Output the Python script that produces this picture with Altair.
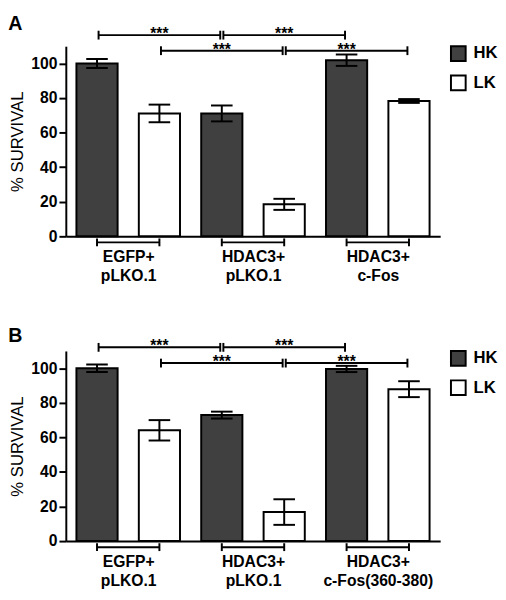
import altair as alt
import pandas as pd

# ---------------- data ----------------
groups_A = ["EGFP+|pLKO.1", "HDAC3+|pLKO.1", "HDAC3+|c-Fos"]
groups_B = ["EGFP+|pLKO.1", "HDAC3+|pLKO.1", "HDAC3+|c-Fos(360-380)"]
conditions = ["HK", "LK"]

hk_A = [100.0, 71.1, 101.9]
hk_A_err = [2.6, 4.6, 3.3]
lk_A = [71.1, 18.5, 78.3]
lk_A_err = [5.1, 3.2, 1.1]

hk_B = [100.0, 72.9, 99.6]
hk_B_err = [2.2, 2.0, 1.8]
lk_B = [64.1, 16.8, 87.9]
lk_B_err = [5.9, 7.4, 4.6]

# significance comparisons between bars (bar index = 2*group + condition)
sig_pairs = [(0, 2), (2, 4), (1, 3), (3, 5)]
sig_labels = ["***", "***", "***", "***"]
sig_levels_A = [116.4, 116.4, 107.4, 107.4]
sig_levels_B = [112.1, 112.1, 103.0, 103.0]

y_ticks = [0, 20, 40, 60, 80, 100]
y_title = "% SURVIVAL"

# ---------------- style ----------------
FONT = "Liberation Sans"
DARK = "#404040"
HALF = 0.33      # half bar width in category steps
GAP = 0.025      # gap at bracket junctions
GROUP_LEVEL = -3.5
W = 382
H = 194


def panel(letter, groups, hk, hk_err, lk, lk_err, sig_levels, height):
    rows = []
    for g in range(len(groups)):
        for c, (vals, errs) in enumerate([(hk, hk_err), (lk, lk_err)]):
            i = 2 * g + c
            rows.append(dict(cond=conditions[c], xc=i, x0=i - HALF, x1=i + HALF,
                             value=vals[g], lo=vals[g] - errs[g], hi=vals[g] + errs[g]))
    bars_df = pd.DataFrame(rows)

    sig_rows = []
    for (a, b), lab, lev in zip(sig_pairs, sig_labels, sig_levels):
        sig_rows.append(dict(s=a + GAP, e=b - GAP, mid=(a + b) / 2, level=lev, label=lab))
    sig_df = pd.DataFrame(sig_rows)
    sig_ends = pd.DataFrame(
        [dict(x=r["s"], level=r["level"]) for r in sig_rows]
        + [dict(x=r["e"], level=r["level"]) for r in sig_rows])

    grp_df = pd.DataFrame([dict(s=2 * g, e=2 * g + 1, level=GROUP_LEVEL) for g in range(len(groups))])
    grp_ends = pd.DataFrame([dict(x=2 * g + c, level=GROUP_LEVEL) for g in range(len(groups)) for c in range(2)])

    xs = alt.Scale(domain=[-0.5, 5.5], nice=False, zero=False)
    ys = alt.Scale(domain=[0, 110], nice=False, zero=False)

    arr = "[" + ",".join("'" + g + "'" for g in groups) + "]"
    label_expr = "split(" + arr + "[round((datum.value - 0.5) / 2)], '|')"
    x_axis = alt.Axis(values=[0.5, 2.5, 4.5], labelExpr=label_expr, title=None)
    y_axis = alt.Axis(values=y_ticks, format="d", title=y_title)

    def X(f):
        return alt.X(f, scale=xs, axis=x_axis)

    def Y(f):
        return alt.Y(f, scale=ys, axis=y_axis)

    bars = alt.Chart(bars_df).mark_rect(stroke="black", strokeWidth=2).encode(
        x=X("x0:Q"),
        x2="x1",
        y=Y("value:Q"),
        y2=alt.datum(0),
        fill=alt.Fill("cond:N", scale=alt.Scale(domain=conditions, range=[DARK, "#ffffff"]),
                      legend=alt.Legend(title=None, orient="none", legendX=W + 10, legendY=-1,
                                        symbolType="square", symbolSize=225,
                                        symbolStrokeColor="black", symbolStrokeWidth=2,
                                        symbolOpacity=1, labelFontSize=17, labelFont=FONT,
                                        labelFontWeight="bold", labelColor="black",
                                        labelOffset=7, rowPadding=7)),
    )

    err = alt.Chart(bars_df).mark_rule(color="black", strokeWidth=2).encode(
        x=X("xc:Q"), y=Y("lo:Q"), y2="hi",
    )
    caps = alt.Chart(bars_df).transform_fold(["lo", "hi"], as_=["end", "yv"]).mark_tick(
        color="black", orient="horizontal", size=22, thickness=2, opacity=1).encode(
        x=X("xc:Q"), y=Y("yv:Q"),
    )

    sig_lines = alt.Chart(sig_df).mark_rule(color="black", strokeWidth=2).encode(
        x=X("s:Q"), x2="e", y=Y("level:Q"),
    )
    sig_ticks = alt.Chart(sig_ends).mark_tick(
        color="black", orient="vertical", size=9, thickness=2, opacity=1).encode(
        x=X("x:Q"), y=Y("level:Q"),
    )
    sig_text = alt.Chart(sig_df).mark_text(
        font=FONT, fontSize=16, fontWeight="bold", baseline="alphabetic", dy=4,
        color="black").encode(
        x=X("mid:Q"), y=Y("level:Q"), text="label:N",
    )

    grp_lines = alt.Chart(grp_df).mark_rule(color="black", strokeWidth=2).encode(
        x=X("s:Q"), x2="e", y=Y("level:Q"),
    )
    grp_ticks = alt.Chart(grp_ends).mark_tick(
        color="black", orient="vertical", size=8, thickness=2, opacity=1).encode(
        x=X("x:Q"), y=Y("level:Q"),
    )

    return alt.layer(bars, err, caps, sig_lines, sig_ticks, sig_text, grp_lines, grp_ticks).properties(
        width=W, height=height,
        title=alt.TitleParams(letter, anchor="start", frame="bounds", fontSize=20,
                              fontWeight="bold", font=FONT, color="black", offset=-8),
    )


pA = panel("A", groups_A, hk_A, hk_A_err, lk_A, lk_A_err, sig_levels_A, H)
pB = panel("B", groups_B, hk_B, hk_B_err, lk_B, lk_B_err, sig_levels_B, H)

chart = alt.vconcat(pA, pB, spacing=44).resolve_scale(
    x="independent", y="independent", fill="independent"
).resolve_legend(fill="independent").properties(padding=0).configure_view(
    stroke=None
).configure_axis(
    domainColor="black", domainWidth=2, tickColor="black", tickWidth=2,
    labelColor="black", labelFont=FONT, labelFontSize=16, labelFontWeight="bold",
    titleFont=FONT, titleColor="black", grid=False,
).configure_axisX(
    ticks=False, labelPadding=13, labelLineHeight=19, labelOverlap=False,
).configure_axisY(
    tickSize=7, labelPadding=2, titleFontSize=17, titleFontWeight="normal", titlePadding=5,
    labelOverlap=False,
)

chart.save("out.html", embed_options={"renderer": "svg", "actions": False})
